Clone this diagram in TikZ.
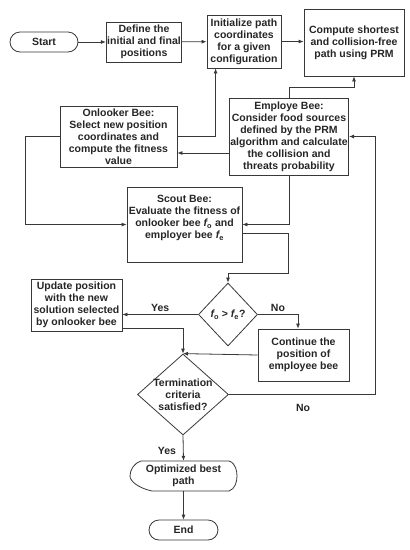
\documentclass[tikz,border=0pt]{standalone}
\usepackage{fontspec}
\setmainfont{Liberation Sans}
\usetikzlibrary{arrows.meta,shapes.geometric,calc}
\definecolor{lc}{rgb}{0.22,0.22,0.22}
\newcommand{\fo}{{\itshape f}\textsubscript{o}}
\newcommand{\fe}{{\itshape f}\textsubscript{e}}
\begin{document}
\begin{tikzpicture}[x=1pt,y=-1pt,
  every node/.style={font=\bfseries\fontsize{10.5}{12}\selectfont, text=black!85, align=center, inner sep=1pt},
  box/.style={draw=lc, line width=0.8pt, rectangle},
  term/.style={draw=lc, line width=0.8pt, rounded corners=10pt, minimum width=68pt, minimum height=20pt},
  dia/.style={draw=lc, line width=0.8pt, diamond, inner sep=0pt},
  arr/.style={draw=lc, line width=0.8pt, -{Latex[length=5pt,width=4pt]}},
  lbl/.style={font=\bfseries\fontsize{10.5}{12}\selectfont}]
\useasboundingbox (0,0) rectangle (410,550);
\fill[white] (0,0) rectangle (410,550);

\node[term] (start) at (44,42) {Start};
\node[box, minimum width=74pt, minimum height=40pt] (def) at (144,42) {Define the\\initial and final\\positions};
\node[box, minimum width=74pt, minimum height=53pt] (init) at (244,41.5) {Initialize path\\coordinates\\for a given\\configuration};
\node[box, minimum width=100pt, minimum height=67pt] (comp) at (354,42.5) {Compute shortest\\and collision-free\\path using PRM};
\node[box, minimum width=114pt, minimum height=77pt] (emp) at (289,136.5) {Employe Bee:\\Consider food sources\\defined by the PRM\\algorithm and calculate\\the collision and\\threats probability};
\node[box, minimum width=117pt, minimum height=61pt] (onl) at (118.5,136.5) {Onlooker Bee:\\Select new position\\coordinates and\\compute the fitness\\value};
\node[box, minimum width=115pt, minimum height=75pt] (scout) at (184.5,224.5) {Scout Bee:\\Evaluate the fitness of\\onlooker bee \fo{} and\\employer bee \fe\\\strut};
\node[dia, minimum width=59pt, minimum height=63pt] (d1) at (228,314.5) {};
\node at (d1) {\fo{} > \fe?};
\node[box, minimum width=91pt, minimum height=52pt] (upd) at (76.5,305) {Update position\\with the new\\solution selected\\by onlooker bee};
\node[box, minimum width=91pt, minimum height=52pt] (cont) at (303.5,355) {Continue the\\position of\\employee bee};
\node[dia, minimum width=91pt, minimum height=81pt] (tc) at (183,394.5) {};
\node at (tc) {Termination\\criteria\\satisfied?};
\node[minimum width=107pt, minimum height=30pt] (opt) at (183.5,476) {Optimized best\\path};
\draw[lc, line width=0.8pt] (141,461) -- (229,461) .. controls (236,463) and (237,472) .. (237,476)
  .. controls (237,482) and (235,489) .. (229,491) -- (152,491)
  .. controls (138,488) and (130,481) .. (130,476) .. controls (130,470) and (134,463) .. (141,461) -- cycle;
\node[term, minimum width=69pt] (end) at (183.5,530) {End};

% connectors
\draw[arr] (start) -- (def);
\draw[arr] (def) -- (init);
\draw[arr] (init.east) -- (comp.west |- init.east);
\draw[arr] (emp.north) -- ++(0,-10) -| (comp.south);
\draw[arr] (onl.east) -| ([xshift=9pt]init.south west);
\draw[arr] (emp.west |- 0,153) -- (onl.east |- 0,153);
\draw[arr] (onl.west) -- ++(-34,0) |- (scout.west);
\draw[arr] (emp.south) |- (scout.east);
\draw[arr] (scout.east |- 0,233) -- (288,233) -- (288,273) -| (d1.north);
\draw[arr] (d1.west) -- (upd.east |- d1.west) node[lbl, pos=0.5, above=2pt] {Yes};
\draw[arr] (d1.east) -| ([xshift=-5.5pt]cont.north) node[lbl, pos=0.25, above=2pt] {No};
\draw[arr] (upd.east |- 0,328) -| (tc.north);
\draw[arr] (cont.west) -- (tc.north);
\draw[arr] (tc.east) -- ++(146,0) |- (emp.east);
\node[lbl] at (303,408) {No};
\draw[arr] (tc.south) -- (opt.north);
\node[lbl] at (167,451) {Yes};
\draw[arr] (opt.south) -- (end.north);
\end{tikzpicture}
\end{document}
